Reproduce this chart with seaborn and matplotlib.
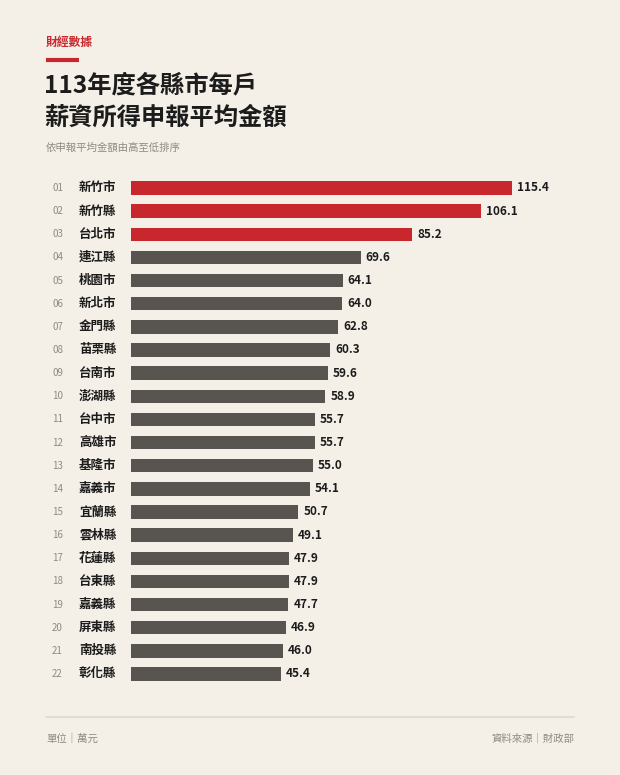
import pandas as pd
import seaborn as sns
import matplotlib.pyplot as plt
from matplotlib.transforms import blended_transform_factory

# data
counties = ['新竹市', '新竹縣', '台北市', '連江縣', '桃園市', '新北市', '金門縣', '苗栗縣',
            '台南市', '澎湖縣', '台中市', '高雄市', '基隆市', '嘉義市', '宜蘭縣', '雲林縣',
            '花蓮縣', '台東縣', '嘉義縣', '屏東縣', '南投縣', '彰化縣']
amounts = [115.4, 106.1, 85.2, 69.6, 64.1, 64.0, 62.8, 60.3, 59.6, 58.9, 55.7, 55.7,
           55.0, 54.1, 50.7, 49.1, 47.9, 47.9, 47.7, 46.9, 46.0, 45.4]
ranks = ['%02d' % (i + 1) for i in range(len(counties))]
top_n = 3

BG = '#F4F0E8'
RED = '#C8282D'
DARK = '#58544F'
INK = '#1C1C1C'
GREY = '#8E8A84'

sns.set_theme(style='white')
plt.rcParams['font.family'] = ['Noto Sans CJK TC', 'DejaVu Sans']

df = pd.DataFrame({'county': counties, 'amount': amounts})
df['group'] = ['top' if i < top_n else 'rest' for i in range(len(df))]

fig = plt.figure(figsize=(6.2, 7.75), dpi=100, facecolor=BG)
ax = fig.add_axes([131 / 620, 0.1154, 443 / 620, 0.657])
ax.set_facecolor(BG)

sns.barplot(data=df, x='amount', y='county', hue='group', palette={'top': RED, 'rest': DARK},
            dodge=False, width=0.58, legend=False, saturation=1, linewidth=0, ax=ax)
ax.set_xlim(0, 134.2)
ax.set_ylim(len(df) - 0.5, -0.5)
ax.axis('off')

# value labels at bar ends
for i, v in enumerate(amounts):
    ax.text(v + 1.5, i, f'{v:.1f}', va='center', ha='left', fontsize=8.5,
            fontweight='bold', color=INK)

# rank numbers and county names on the left
tr = blended_transform_factory(fig.transFigure, ax.transData)
for i, (r, c) in enumerate(zip(ranks, counties)):
    ax.text(52 / 620, i, r, transform=tr, va='center', ha='left', fontsize=7, color=GREY)
    ax.text(79 / 620, i, c, transform=tr, va='center', ha='left', fontsize=9,
            fontweight='bold', color=INK)

# header
fig.text(46 / 620, 1 - 42 / 775, '財經數據', fontsize=8.5, fontweight='bold', color=RED,
         va='center', ha='left')
fig.add_artist(plt.Line2D([46 / 620, 79 / 620], [1 - 59.5 / 775] * 2, color=RED, lw=3,
                          solid_capstyle='butt'))
fig.text(44 / 620, 1 - 85 / 775, '113年度各縣市每戶', fontsize=17.5, fontweight='bold',
         color=INK, va='center', ha='left')
fig.text(44 / 620, 1 - 118 / 775, '薪資所得申報平均金額', fontsize=17.5, fontweight='bold',
         color=INK, va='center', ha='left')
fig.text(46 / 620, 1 - 148 / 775, '依申報平均金額由高至低排序', fontsize=7.5, color=GREY,
         va='center', ha='left')

# footer
fig.add_artist(plt.Line2D([46 / 620, 574 / 620], [1 - 717 / 775] * 2, color='#E2DDD0', lw=1.5))
fig.text(46 / 620, 1 - 739 / 775, '單位｜萬元', fontsize=7.5, color=GREY, va='center', ha='left')
fig.text(574 / 620, 1 - 739 / 775, '資料來源｜財政部', fontsize=7.5, color=GREY,
         va='center', ha='right')

fig.savefig('out.png', dpi=100, facecolor=BG)
